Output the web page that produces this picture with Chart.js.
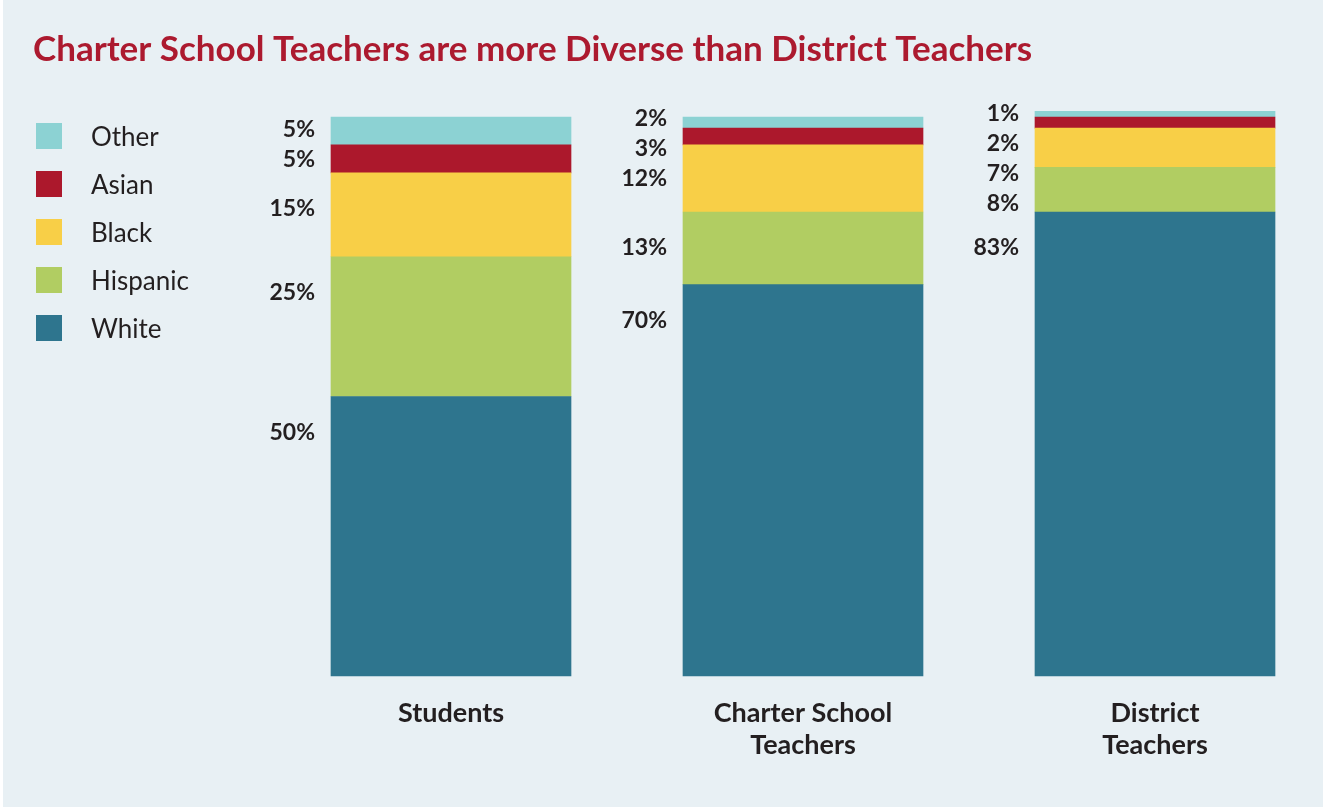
<!DOCTYPE html>
<html>
<head>
<meta charset="utf-8">
<title>Teacher diversity</title>
<script src="https://cdn.jsdelivr.net/npm/chart.js@4.4.1/dist/chart.umd.min.js"></script>
<style>
    html, body { margin: 0; padding: 0; background: #ffffff; }
    #wrap { margin-left: 3px; width: 1320px; height: 807px; background: #e8f0f4; position: relative; }
    canvas { display: block; }
</style>
</head>
<body>
<div id="wrap"><canvas id="chart" width="1320" height="807"></canvas></div>
<script>
// Categories (multi-line tick labels)
const categories = [["Students"], ["Charter School", "Teachers"], ["District", "Teachers"]];

// Share of each group, in percent
const white = [50, 70, 83];
const hispanic = [25, 13, 8];
const black = [15, 12, 7];
const asian = [5, 3, 2];
const other = [5, 2, 1];

const TEXT = "#231f20";
const FONT = "Lato, 'Open Sans', sans-serif";

/**
 * Legend on the left, listed top segment first
 */
const sideLegend = {
    id: "sideLegend",
    afterDraw(chart) {
        const ctx = chart.ctx;
        const sets = chart.data.datasets.slice().reverse();
        ctx.save();
        ctx.font = `26px ${FONT}`;
        ctx.textBaseline = "middle";
        ctx.textAlign = "left";
        sets.forEach((ds, i) => {
            const cy = 136 + i * 48;
            ctx.fillStyle = ds.backgroundColor;
            ctx.fillRect(33, cy - 13, 26, 26);
            ctx.fillStyle = TEXT;
            ctx.fillText(ds.label, 88, cy + 2);
        });
        ctx.restore();
    },
};

/**
 * Percent labels left of each bar; labels that would overlap are spread apart
 */
const sideValues = {
    id: "sideValues",
    afterDatasetsDraw(chart) {
        const ctx = chart.ctx;
        const gap = 30;
        const n = chart.data.labels.length;
        ctx.save();
        ctx.font = `bold 23px ${FONT}`;
        ctx.fillStyle = TEXT;
        ctx.textAlign = "right";
        ctx.textBaseline = "middle";

        for (let col = 0; col < n; col++) {
            // Collect segments top to bottom
            const items = [];
            for (let d = chart.data.datasets.length - 1; d >= 0; d--) {
                const el = chart.getDatasetMeta(d).data[col];
                const top = Math.min(el.y, el.base);
                const h = Math.abs(el.base - el.y);
                items.push({
                    anchor: top + Math.min(h / 2, 36),
                    text: `${chart.data.datasets[d].data[col]}%`,
                    left: el.x - el.width / 2,
                    top: top,
                });
            }
            const minY = items[0].top + 2;

            // Group overlapping labels and center each group on its anchors
            const groups = [];
            const place = (g) => Math.max(minY, g.sum / g.count - (gap * (g.count - 1)) / 2);
            items.forEach((it) => {
                groups.push({ sum: it.anchor, count: 1, items: [it] });
                while (groups.length > 1) {
                    const g = groups[groups.length - 1];
                    const p = groups[groups.length - 2];
                    const pLast = place(p) + gap * (p.count - 1);
                    if (place(g) - pLast >= gap) break;
                    p.sum += g.sum;
                    p.count += g.count;
                    p.items = p.items.concat(g.items);
                    groups.pop();
                }
            });

            groups.forEach((g) => {
                const first = place(g);
                g.items.forEach((it, k) => {
                    ctx.fillText(it.text, it.left - 16, first + k * gap);
                });
            });
        }
        ctx.restore();
    },
};

const makeSet = (label, data, color) => ({
    label: label,
    data: data,
    backgroundColor: color,
    borderWidth: 0,
    barThickness: 240,
    clip: false,
});

new Chart(document.getElementById("chart"), {
    type: "bar",
    data: {
        labels: categories,
        datasets: [
            makeSet("White", white, "#2e758e"),
            makeSet("Hispanic", hispanic, "#b1cd62"),
            makeSet("Black", black, "#f8cf47"),
            makeSet("Asian", asian, "#ac182c"),
            makeSet("Other", other, "#8cd2d3"),
        ],
    },
    options: {
        responsive: false,
        animation: false,
        events: [],
        layout: { padding: { left: 30, right: 168, top: 0, bottom: 0 } },
        scales: {
            x: {
                stacked: true,
                offset: false,
                grid: { display: false, drawTicks: false },
                border: { display: false },
                ticks: {
                    padding: 21,
                    color: TEXT,
                    font: { family: FONT, size: 27, weight: "bold", lineHeight: "32px" },
                    maxRotation: 0,
                    autoSkip: false,
                },
                afterFit: (scale) => {
                    scale.height = 131;
                },
            },
            y: {
                stacked: true,
                min: 0,
                max: 100,
                ticks: { display: false },
                grid: { display: false, drawTicks: false },
                border: { display: false },
                afterFit: (scale) => {
                    scale.width = 418;
                },
            },
        },
        plugins: {
            legend: { display: false },
            tooltip: { enabled: false },
            title: {
                display: true,
                text: "Charter School Teachers are more Diverse than District Teachers",
                align: "start",
                color: "#ac1a2f",
                font: { family: FONT, size: 35, weight: "bold", lineHeight: 1.2 },
                padding: { top: 29, bottom: 46 },
            },
        },
    },
    plugins: [sideLegend, sideValues],
});
</script>
</body>
</html>
